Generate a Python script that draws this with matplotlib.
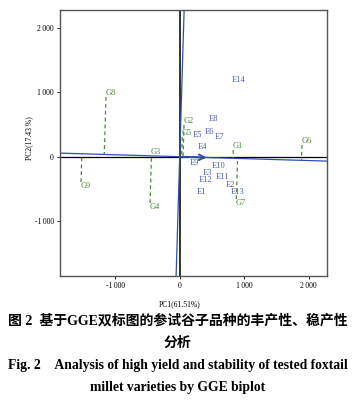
import numpy as np
import matplotlib
matplotlib.use("Agg")
import matplotlib.pyplot as plt

# genotype points (green) and environment points (blue)
g_names = ["G1", "G2", "G3", "G4", "G5", "G6", "G7", "G8", "G9"]
g_x = [831, 67, -450, -460, 40, 1896, 878, -1143, -1530]
g_y = [104, 493, 5, -720, 306, 182, -658, 928, -393]
e_names = ["E1", "E2", "E3", "E4", "E5", "E6", "E7", "E8", "E9", "E10", "E11", "E12", "E13", "E14"]
e_x = [264, 713, 357, 273, 200, 380, 537, 445, 160, 500, 563, 288, 795, 810]
e_y = [-554, -440, -250, 155, 342, 380, 305, 585, -103, -145, -316, -370, -550, 1190]
atc_slope = -0.03      # average tester coordinate abscissa
arrow_len = 460
x_ticks = [-1000, 0, 1000, 2000]
y_ticks = [-1000, 0, 1000, 2000]
tick_lbls = {-1000: "-1\u2009000", 0: "0", 1000: "1\u2009000", 2000: "2\u2009000"}

green = "#4a8a3a"; blue = "#4a5cb0"; line_blue = "#2f4fb0"
serif = ["Liberation Serif", "DejaVu Serif"]

fig = plt.figure(figsize=(3.63, 4.01), dpi=100)
ax = fig.add_axes([60/363, 1-276/401, 267/363, 266/401])
ax.set_xlim(-1856, 2284); ax.set_ylim(-1855, 2281)

ax.axhline(0, color="black", lw=0.9, zorder=1)
ax.axvline(0, color="#222222", lw=1.3, zorder=1)
ax.axline((0, 0), slope=atc_slope, color=line_blue, lw=0.9, zorder=2)
ax.axline((0, 0), slope=-1/atc_slope, color=line_blue, lw=0.9, zorder=2)
d = np.array([1.0, atc_slope]); d = d/np.linalg.norm(d)
ax.annotate("", xy=tuple(d*arrow_len), xytext=(0, 0),
            arrowprops=dict(arrowstyle="->", color=line_blue, lw=1.4, mutation_scale=10), zorder=3)

for nm, x, y in zip(g_names, g_x, g_y):
    p = np.dot([x, y], d)*d
    ax.plot([x, p[0]], [y, p[1]], ls=(0, (3, 2.5)), color=green, lw=0.9, zorder=2)
    ax.text(x-5, y, nm, color=green, fontsize=6, family=serif, ha="left",
            va="bottom" if y > 0 else "top")
for nm, x, y in zip(e_names, e_x, e_y):
    ax.text(x, y, nm, color=blue, fontsize=6, family=serif, ha="left", va="center")

ax.set_xticks(x_ticks); ax.set_xticklabels([tick_lbls[t] for t in x_ticks], family=serif, fontsize=5.5)
ax.set_yticks(y_ticks); ax.set_yticklabels([tick_lbls[t] for t in y_ticks], family=serif, fontsize=5.5)
ax.tick_params(length=2.5, width=0.6, pad=2)
for s in ax.spines.values():
    s.set_color("#555555"); s.set_linewidth(1.0)
ax.set_xlabel("PC1(61.51%)", family=serif, fontsize=5.5)
ax.xaxis.set_label_coords((180-60)/267, -0.09)
ax.set_ylabel("PC2(17.43 %)", family=serif, fontsize=5.5)
ax.yaxis.set_label_coords(-(60-33)/267, 0.52)

cap = ["Liberation Serif", "Noto Sans CJK SC"]
fig.text(0.49, 1-321/401, "图 2\u2002基于GGE双标图的参试谷子品种的丰产性、稳产性", family=cap,
         fontsize=10, weight="bold", ha="center", va="center")
fig.text(0.49, 1-343/401, "分析", family=cap, fontsize=10, weight="bold", ha="center", va="center")
fig.text(0.49, 1-365/401, "Fig. 2\u2003Analysis of high yield and stability of tested foxtail", family=serif,
         fontsize=9.8, weight="bold", ha="center", va="center")
fig.text(0.49, 1-387/401, "millet varieties by GGE biplot", family=serif, fontsize=9.8, weight="bold",
         ha="center", va="center")

fig.savefig("out.png", dpi=100)
